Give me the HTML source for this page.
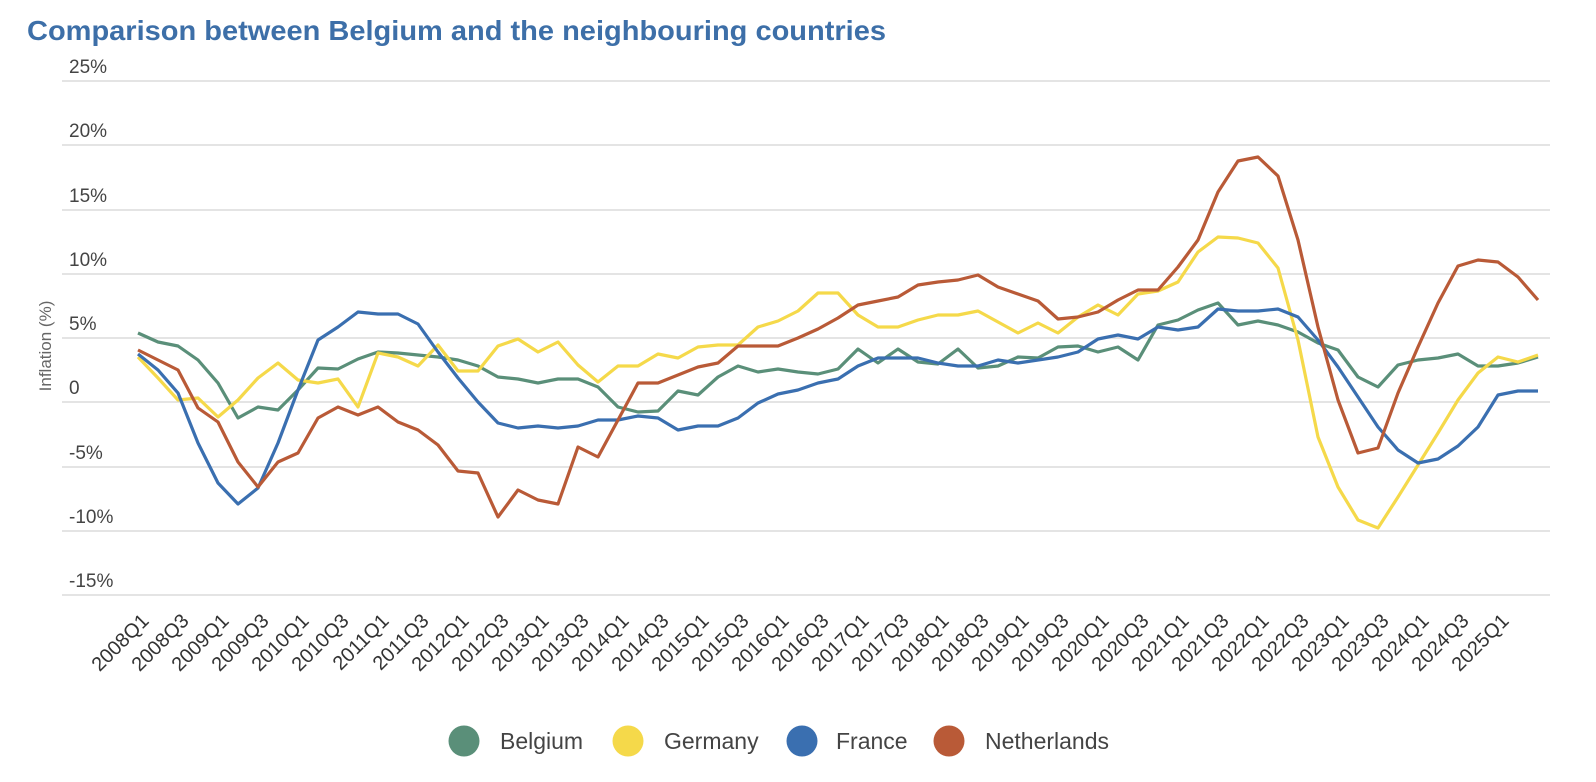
<!DOCTYPE html>
<html><head><meta charset="utf-8"><style>
html,body{margin:0;padding:0;background:#fff;}
svg{display:block;font-family:"Liberation Sans",sans-serif;}
</style></head><body>
<svg width="1596" height="782" viewBox="0 0 1596 782" xmlns="http://www.w3.org/2000/svg">
<text x="27" y="40" font-size="28" font-weight="bold" fill="#3d6fa8" textLength="859" lengthAdjust="spacingAndGlyphs">Comparison between Belgium and the neighbouring countries</text>
<g stroke="#dcdcdc" stroke-width="1.5">
<line x1="62" y1="81" x2="1550" y2="81"/><line x1="62" y1="145" x2="1550" y2="145"/><line x1="62" y1="210" x2="1550" y2="210"/><line x1="62" y1="274" x2="1550" y2="274"/><line x1="62" y1="338" x2="1550" y2="338"/><line x1="62" y1="402" x2="1550" y2="402"/><line x1="62" y1="467" x2="1550" y2="467"/><line x1="62" y1="531" x2="1550" y2="531"/><line x1="62" y1="595" x2="1550" y2="595"/>
</g>
<g font-size="19" fill="#444">
<text x="69" y="73">25%</text><text x="69" y="137">20%</text><text x="69" y="202">15%</text><text x="69" y="266">10%</text><text x="69" y="330">5%</text><text x="69" y="394">0</text><text x="69" y="459">-5%</text><text x="69" y="523">-10%</text><text x="69" y="587">-15%</text>
</g>
<text transform="translate(51,346) rotate(-90)" text-anchor="middle" font-size="17" fill="#666">Inflation (%)</text>
<g fill="none" stroke-width="3.2" stroke-linejoin="round">
<polyline stroke="#5a8f79" points="138,333 158,342 178,346 198,360 218,383 238,418 258,407 278,410 298,390 318,368 338,369 358,359 378,352 398,353 418,355 438,357 458,360 478,366 498,377 518,379 538,383 558,379 578,379 598,387 618,407 638,412 658,411 678,391 698,395 718,377 738,366 758,372 778,369 798,372 818,374 838,369 858,349 878,363 898,349 918,362 938,364 958,349 978,368 998,366 1018,357 1038,358 1058,347 1078,346 1098,352 1118,347 1138,360 1158,325 1178,320 1198,310 1218,303 1238,325 1258,321 1278,325 1298,332 1318,343 1338,350 1358,377 1378,387 1398,365 1418,360 1438,358 1458,354 1478,366 1498,366 1518,363 1538,357"/>
<polyline stroke="#f5d94a" points="138,357 158,378 178,400 198,398 218,417 238,400 258,378 278,363 298,380 318,383 338,379 358,407 378,353 398,357 418,366 438,345 458,371 478,371 498,346 518,339 538,352 558,342 578,365 598,382 618,366 638,366 658,354 678,358 698,347 718,345 738,345 758,327 778,321 798,311 818,293 838,293 858,315 878,327 898,327 918,320 938,315 958,315 978,311 998,322 1018,333 1038,323 1058,333 1078,317 1098,305 1118,315 1138,294 1158,291 1178,282 1198,252 1218,237 1238,238 1258,243 1278,268 1298,340 1318,437 1338,487 1358,520 1378,528 1398,497 1418,465 1438,433 1458,400 1478,373 1498,357 1518,362 1538,355"/>
<polyline stroke="#3a6fb0" points="138,354 158,370 178,393 198,443 218,483 238,504 258,488 278,443 298,390 318,340 338,327 358,312 378,314 398,314 418,324 438,352 458,378 478,402 498,423 518,428 538,426 558,428 578,426 598,420 618,420 638,416 658,418 678,430 698,426 718,426 738,418 758,403 778,394 798,390 818,383 838,379 858,366 878,358 898,358 918,358 938,363 958,366 978,366 998,360 1018,363 1038,360 1058,357 1078,352 1098,339 1118,335 1138,339 1158,327 1178,330 1198,327 1218,309 1238,311 1258,311 1278,309 1298,317 1318,340 1338,367 1358,397 1378,427 1398,450 1418,463 1438,459 1458,446 1478,427 1498,395 1518,391 1538,391"/>
<polyline stroke="#b95a37" points="138,350 158,360 178,370 198,408 218,422 238,462 258,487 278,462 298,453 318,418 338,407 358,415 378,407 398,422 418,430 438,445 458,471 478,473 498,517 518,490 538,500 558,504 578,447 598,457 618,420 638,383 658,383 678,375 698,367 718,363 738,346 758,346 778,346 798,338 818,329 838,318 858,305 878,301 898,297 918,285 938,282 958,280 978,275 998,287 1018,294 1038,301 1058,319 1078,317 1098,312 1118,300 1138,290 1158,290 1178,267 1198,240 1218,192 1238,161 1258,157 1278,176 1298,240 1318,327 1338,400 1358,453 1378,448 1398,393 1418,347 1438,303 1458,266 1478,260 1498,262 1518,277 1538,300"/>
</g>
<g font-size="20" fill="#333" text-anchor="end">
<text transform="translate(150,622) rotate(-45)">2008Q1</text>
<text transform="translate(190,622) rotate(-45)">2008Q3</text>
<text transform="translate(230,622) rotate(-45)">2009Q1</text>
<text transform="translate(270,622) rotate(-45)">2009Q3</text>
<text transform="translate(310,622) rotate(-45)">2010Q1</text>
<text transform="translate(350,622) rotate(-45)">2010Q3</text>
<text transform="translate(390,622) rotate(-45)">2011Q1</text>
<text transform="translate(430,622) rotate(-45)">2011Q3</text>
<text transform="translate(470,622) rotate(-45)">2012Q1</text>
<text transform="translate(510,622) rotate(-45)">2012Q3</text>
<text transform="translate(550,622) rotate(-45)">2013Q1</text>
<text transform="translate(590,622) rotate(-45)">2013Q3</text>
<text transform="translate(630,622) rotate(-45)">2014Q1</text>
<text transform="translate(670,622) rotate(-45)">2014Q3</text>
<text transform="translate(710,622) rotate(-45)">2015Q1</text>
<text transform="translate(750,622) rotate(-45)">2015Q3</text>
<text transform="translate(790,622) rotate(-45)">2016Q1</text>
<text transform="translate(830,622) rotate(-45)">2016Q3</text>
<text transform="translate(870,622) rotate(-45)">2017Q1</text>
<text transform="translate(910,622) rotate(-45)">2017Q3</text>
<text transform="translate(950,622) rotate(-45)">2018Q1</text>
<text transform="translate(990,622) rotate(-45)">2018Q3</text>
<text transform="translate(1030,622) rotate(-45)">2019Q1</text>
<text transform="translate(1070,622) rotate(-45)">2019Q3</text>
<text transform="translate(1110,622) rotate(-45)">2020Q1</text>
<text transform="translate(1150,622) rotate(-45)">2020Q3</text>
<text transform="translate(1190,622) rotate(-45)">2021Q1</text>
<text transform="translate(1230,622) rotate(-45)">2021Q3</text>
<text transform="translate(1270,622) rotate(-45)">2022Q1</text>
<text transform="translate(1310,622) rotate(-45)">2022Q3</text>
<text transform="translate(1350,622) rotate(-45)">2023Q1</text>
<text transform="translate(1390,622) rotate(-45)">2023Q3</text>
<text transform="translate(1430,622) rotate(-45)">2024Q1</text>
<text transform="translate(1470,622) rotate(-45)">2024Q3</text>
<text transform="translate(1510,622) rotate(-45)">2025Q1</text>
</g>
<g font-size="23" fill="#444">
<circle cx="464" cy="741" r="15.5" fill="#5a8f79"/><text x="500" y="749">Belgium</text>
<circle cx="628" cy="741" r="15.5" fill="#f5d94a"/><text x="664" y="749">Germany</text>
<circle cx="802" cy="741" r="15.5" fill="#3a6fb0"/><text x="836" y="749">France</text>
<circle cx="949" cy="741" r="15.5" fill="#b95a37"/><text x="985" y="749">Netherlands</text>
</g>
</svg>
</body></html>
